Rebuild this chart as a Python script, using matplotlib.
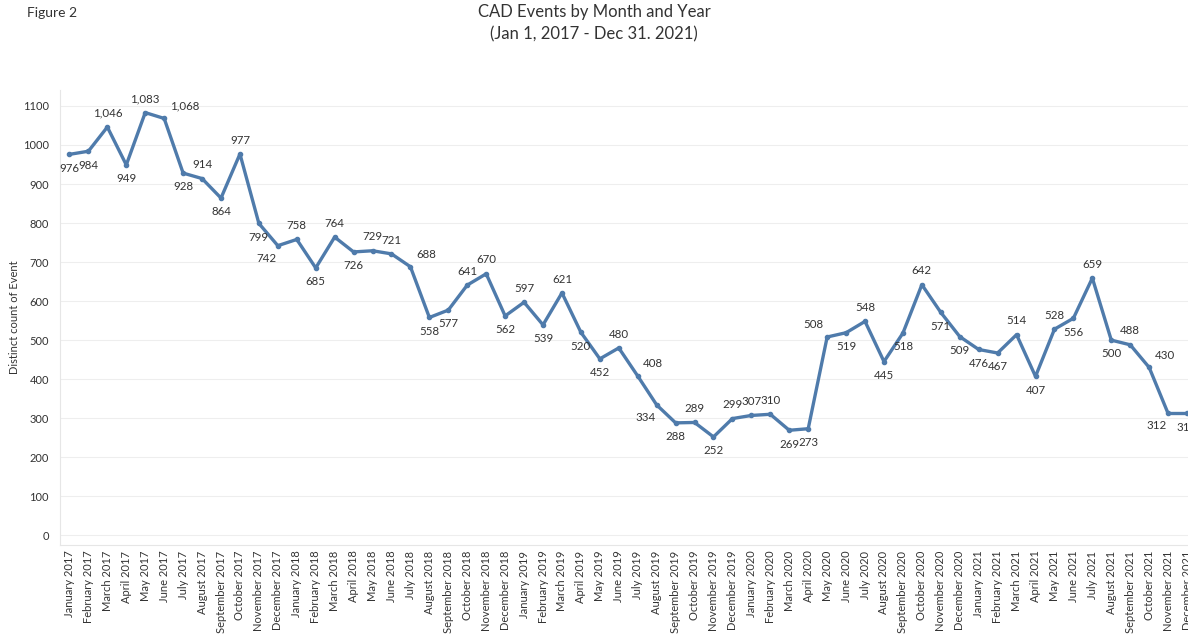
import matplotlib.pyplot as plt

# CAD events per month, Jan 2017 - Dec 2021
years = [2017, 2018, 2019, 2020, 2021]
months = ["January", "February", "March", "April", "May", "June", "July",
          "August", "September", "October", "November", "December"]
labels = [f"{m} {y}" for y in years for m in months]

counts = [976, 984, 1046, 949, 1083, 1068, 928, 914, 864, 977, 799, 742,
          758, 685, 764, 726, 729, 721, 688, 558, 577, 641, 670, 562,
          597, 539, 621, 520, 452, 480, 408, 334, 288, 289, 252, 299,
          307, 310, 269, 273, 508, 519, 548, 445, 518, 642, 571, 509,
          476, 467, 514, 407, 528, 556, 659, 500, 488, 430, 312, 312]

# label placement: a = above, b = below, R = above right, L = above left, l = below left
place = list("bbabaRbababl" "ababaaRbbaab" "ababbaRlbaba" "aabbLbabbabb" "bbabababaRlb")

plt.rcParams["font.family"] = ["Lato", "DejaVu Sans"]

fig = plt.figure(figsize=(11.88, 6.44), dpi=100)
ax = fig.add_axes([0.0505, 0.1537, 0.9495, 0.706])

blue = "#4f7bab"
grey = "#333333"
x = list(range(len(counts)))
ax.plot(x, counts, color=blue, lw=2.4, marker="o", ms=3, zorder=3)

offsets = {"a": (0, 6, "center", "bottom"), "b": (0, -6, "center", "top"),
           "R": (4, 5, "left", "bottom"), "L": (-3, 5, "right", "bottom"),
           "l": (-1, -5, "right", "top")}
for i, v in enumerate(counts):
    dx, dy, ha, va = offsets[place[i]]
    ax.annotate(f"{v:,}", (i, v), xytext=(dx, dy), textcoords="offset points",
                ha=ha, va=va, fontsize=8.3, color=grey)

ax.set_xlim(-0.5, 59.05)
ax.set_ylim(-25, 1140)
ax.set_yticks(range(0, 1101, 100))
ax.set_xticks(x)
ax.set_xticklabels(labels, rotation=90, fontsize=8, color=grey)
ax.tick_params(axis="y", labelsize=8, colors=grey, length=0, pad=8)
ax.tick_params(axis="x", length=0, pad=4)
ax.grid(axis="y", color="#eeeeee", lw=0.8)
ax.set_axisbelow(True)
for s in ["top", "right"]:
    ax.spines[s].set_visible(False)
for s in ["left", "bottom"]:
    ax.spines[s].set_color("#e6e6e6")
ax.set_ylabel("Distinct count of Event", fontsize=8, color=grey, labelpad=2)

fig.text(0.5, 1 - 12 / 644, "CAD Events by Month and Year", ha="center", va="center",
         fontsize=12, color=grey)
fig.text(0.5, 1 - 34 / 644, "(Jan 1, 2017 - Dec 31. 2021)", ha="center", va="center",
         fontsize=12, color=grey)
fig.text(27 / 1188, 1 - 13 / 644, "Figure 2", ha="left", va="center", fontsize=10, color=grey)

fig.savefig("out.png", dpi=100)
